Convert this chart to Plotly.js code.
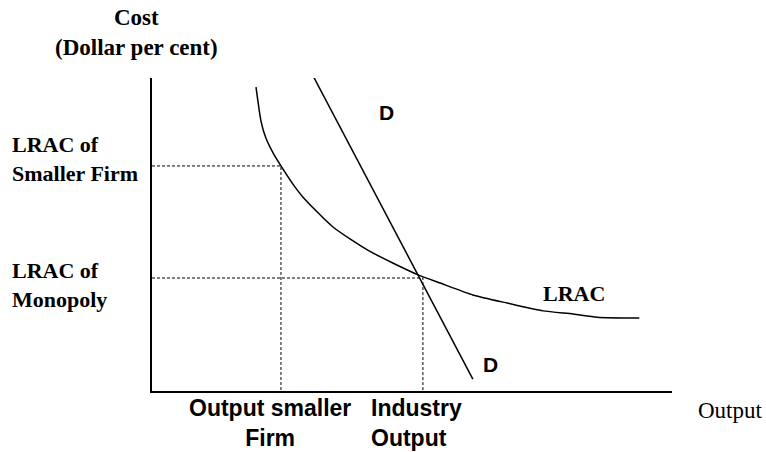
<!DOCTYPE html>
<html>
<head>
<meta charset="utf-8">
<script src="https://cdn.plot.ly/plotly-3.0.1.min.js"></script>
<style>html,body{margin:0;padding:0;background:#fff;}#chart{width:766px;height:452px;}</style>
</head>
<body>
<div id="chart"></div>
<script>
// LRAC curve (output, cost)
const lracX = [2.00, 2.10, 2.19, 2.33, 2.48, 2.71, 2.90, 3.48, 4.15, 4.63, 5.12, 5.54, 6.17, 6.83, 7.52, 8.10, 8.56, 9.37];
const lracY = [9.71, 8.59, 8.08, 7.60, 7.19, 6.61, 6.20, 5.24, 4.50, 4.09, 3.71, 3.45, 3.07, 2.81, 2.56, 2.46, 2.36, 2.33];
// Demand line D
const demandX = [3.10, 6.17];
const demandY = [10.06, 0.38];
// Reference points: smaller firm and monopoly (industry)
const smallFirmQ = 2.48, smallFirmCost = 7.19;
const monopolyQ = 5.21, monopolyCost = 3.61;

const serif = "Liberation Serif, Times New Roman, serif";
const sans = "Liberation Sans, Arial, sans-serif";

const traces = [
  {x: lracX, y: lracY, mode: 'lines', line: {color: '#000', width: 1.5, shape: 'spline', smoothing: 0.6}, hoverinfo: 'skip'},
  {x: demandX, y: demandY, mode: 'lines', line: {color: '#000', width: 1.5}, hoverinfo: 'skip'},
  {x: [0, smallFirmQ, smallFirmQ], y: [smallFirmCost, smallFirmCost, 0], mode: 'lines', line: {color: '#000', width: 1, dash: '3px,2px'}, hoverinfo: 'skip'},
  {x: [0, monopolyQ, monopolyQ], y: [monopolyCost, monopolyCost, 0], mode: 'lines', line: {color: '#000', width: 1, dash: '3px,2px'}, hoverinfo: 'skip'}
];

// positions in paper units (axis ranges are 0..10, so paper = value/10)
const ann = (text, x, y, font, extra) => Object.assign({text, x: x / 10, y: y / 10, xref: 'paper', yref: 'paper', showarrow: false, font, xanchor: 'center', yanchor: 'middle'}, extra || {});
const serifBold = {family: serif, size: 22, color: '#000'};
const sansBold = {family: sans, size: 23, color: '#000'};

const layout = {
  width: 766, height: 452,
  margin: {l: 152, r: 94, t: 78, b: 61},
  paper_bgcolor: '#fff', plot_bgcolor: '#fff',
  showlegend: false,
  xaxis: {range: [0, 10], showline: true, linecolor: '#000', linewidth: 2, showgrid: false, zeroline: false, showticklabels: false, ticks: ''},
  yaxis: {range: [0, 10], showline: true, linecolor: '#000', linewidth: 2, showgrid: false, zeroline: false, showticklabels: false, ticks: ''},
  annotations: [
    ann('<b>Cost</b><br><b>(Dollar per cent)</b>', -0.30, 11.44, {family: serif, size: 23, color: '#000'}),
    ann('<b>LRAC of</b><br><b>Smaller Firm</b>', -2.73, 7.41, serifBold, {xanchor: 'left', align: 'left'}),
    ann('<b>LRAC of</b><br><b>Monopoly</b>', -2.73, 3.39, serifBold, {xanchor: 'left', align: 'left'}),
    ann('<b>D</b>', 4.5, 8.91, {family: sans, size: 21, color: '#000'}),
    ann('<b>D</b>', 6.5, 0.86, {family: sans, size: 21, color: '#000'}),
    ann('<b>LRAC</b>', 8.12, 3.13, serifBold),
    ann('<b>Output smaller</b><br><b>Firm</b>', 2.27, -1.02, sansBold),
    ann('<b>Industry</b><br><b>Output</b>', 4.17, -1.02, sansBold, {xanchor: 'left', align: 'left'}),
    ann('Output', 11.13, -0.61, {family: serif, size: 23, color: '#000'})
  ]
};

Plotly.newPlot('chart', traces, layout, {staticPlot: true, displayModeBar: false});
</script>
</body>
</html>
